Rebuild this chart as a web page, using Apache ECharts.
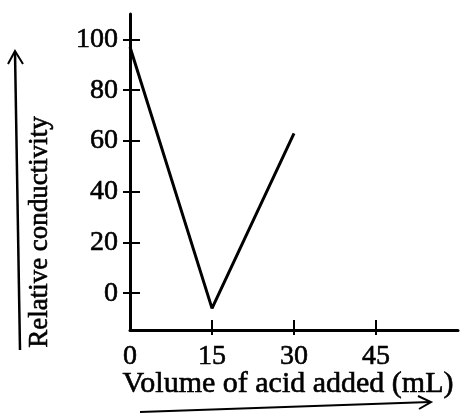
<!DOCTYPE html>
<html>
<head>
<meta charset="utf-8">
<script src="https://cdn.jsdelivr.net/npm/echarts@6/dist/echarts.min.js"></script>
<style>html,body{margin:0;padding:0;background:#fff;}#c{width:463px;height:414px;}</style>
</head>
<body>
<div id="c"></div>
<script>
const volumes = [0, 15, 30];
const conductivity = [97, -6, 63];
const xTicks = [0, 15, 30, 45];
const yTicks = [0, 20, 40, 60, 80, 100];
const xTitle = 'Volume of acid added (mL)';
const yTitle = 'Relative conductivity';

const chart = echarts.init(document.getElementById('c'));
const font = 'Liberation Serif';
const lbl = {color: '#000', fontFamily: font, fontSize: 28, textBorderColor: '#000', textBorderWidth: 0.6};
chart.setOption({
  backgroundColor: '#fff',
  animation: false,
  grid: {left: 130, right: 5, top: 14, bottom: 84},
  xAxis: [{
    type: 'value', min: 0, max: 60,
    axisLine: {onZero: false, lineStyle: {color: '#000', width: 3}},
    axisTick: {inside: true, length: 10, lineStyle: {color: '#000', width: 2}, customValues: xTicks.slice(1)},
    axisLabel: Object.assign({margin: 13, customValues: xTicks}, lbl),
    splitLine: {show: false}
  }, {
    type: 'value', min: 0, max: 60, position: 'bottom',
    axisLine: {show: false, onZero: false},
    axisTick: {show: true, inside: false, length: 5, lineStyle: {color: '#000', width: 2}, customValues: xTicks.slice(1)},
    axisLabel: {show: false},
    splitLine: {show: false}
  }],
  yAxis: [{
    type: 'value', min: -14.5, max: 110,
    axisLine: {show: true, onZero: false, lineStyle: {color: '#000', width: 3}},
    axisTick: {show: true, inside: false, length: 7, lineStyle: {color: '#000', width: 2}, customValues: yTicks},
    axisLabel: Object.assign({margin: 12, customValues: yTicks}, lbl),
    splitLine: {show: false}
  }, {
    type: 'value', min: -14.5, max: 110, position: 'left',
    axisLine: {show: false, onZero: false},
    axisTick: {show: true, inside: true, length: 10, lineStyle: {color: '#000', width: 2}, customValues: yTicks},
    axisLabel: {show: false},
    splitLine: {show: false}
  }],
  series: [{
    type: 'line',
    data: volumes.map((v, i) => [v, conductivity[i]]),
    showSymbol: false,
    lineStyle: {color: '#000', width: 3},
    silent: true
  }],
  graphic: [
    {type: 'line', shape: {x1: 20, y1: 350, x2: 15, y2: 52}, style: {stroke: '#000', lineWidth: 2.5}},
    {type: 'polyline', shape: {points: [[8, 64], [15, 51], [23, 64]]}, style: {stroke: '#000', lineWidth: 2, fill: null}},
    {type: 'line', shape: {x1: 140, y1: 412, x2: 430, y2: 402}, style: {stroke: '#000', lineWidth: 2}},
    {type: 'polyline', shape: {points: [[418, 396], [431, 402], [419, 409]]}, style: {stroke: '#000', lineWidth: 2, fill: null}},
    {type: 'text', x: 40, y: 232, rotation: Math.PI / 2, style: {text: yTitle, fill: '#000', font: '27px "Liberation Serif"', align: 'center', verticalAlign: 'middle', stroke: '#000', lineWidth: 0.6}},
    {type: 'text', x: 288, y: 384, style: {text: xTitle, fill: '#000', font: '30px "Liberation Serif"', align: 'center', verticalAlign: 'middle', stroke: '#000', lineWidth: 0.6}}
  ]
});
</script>
</body>
</html>
